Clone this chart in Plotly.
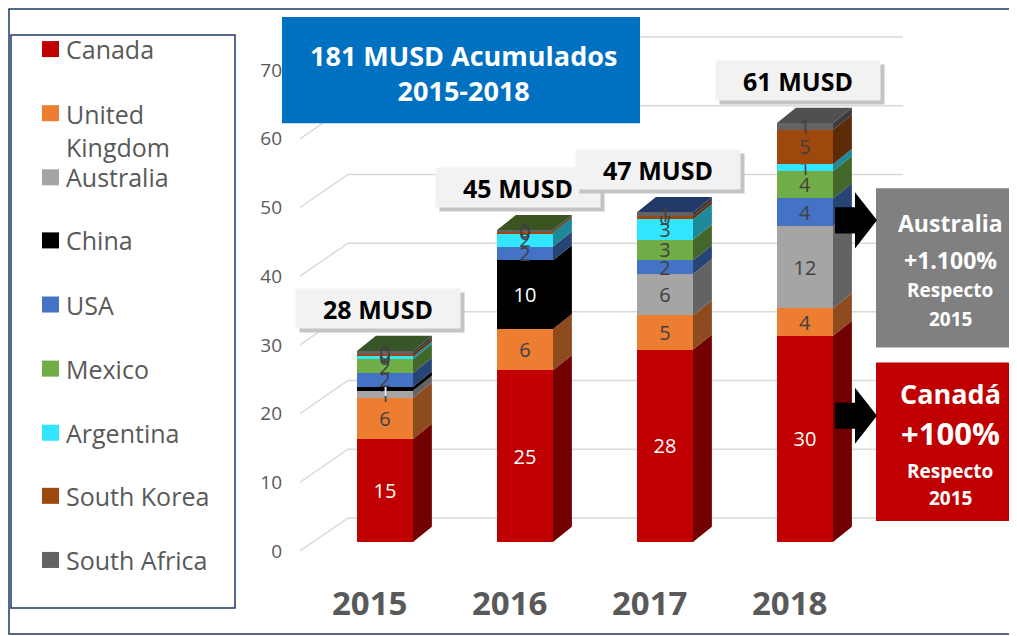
import plotly.graph_objects as go

W, H = 1017, 636

years = ["2015", "2016", "2017", "2018"]
series_names = ["Canada", "United Kingdom", "Australia", "China", "USA",
                "Mexico", "Argentina", "South Korea", "South Africa"]
canada = [15, 25, 28, 30]
uk = [6, 6, 5, 4]
australia = [1, 0, 6, 12]
china = [0.6, 10, 0, 0]
usa = [2, 2, 2, 4]
mexico = [2, 0, 3, 4]
argentina = [0.4, 2, 3, 1]
south_korea = [0.4, 0.2, 0.4, 5]
south_africa = [0.4, 0.2, 0.6, 1]
total_labels = ["28 MUSD", "45 MUSD", "47 MUSD", "61 MUSD"]
y_ticks = [0, 10, 20, 30, 40, 50, 60, 70]

series_values = [canada, uk, australia, china, usa, mexico, argentina, south_korea, south_africa]
colors = ["#C00000", "#ED7D31", "#A5A5A5", "#000000", "#4472C4",
          "#70AD47", "#33E6FF", "#9E480E", "#636363"]
label_colors = ["white", "#404040", "#404040", "white", "#404040",
                "#404040", "#404040", "#404040", "#404040"]
top_face_colors = ["#38552A", "#3C5520", "#22396A", "#505050"]

FONT = "Open Sans"
GRAY_TXT = "#595959"

# target-pixel -> paper conversion (page body margin offsets the figure)
X_OFF, Y_OFF, Y_SCALE = 8.0, 8.0, 0.992


def px(x):
    return (x - X_OFF) / W


def py(y):
    return 1 - ((y - Y_OFF) / Y_SCALE) / H


# axis geometry in target pixels
PPU = 6.857                   # pixels per value unit
BASE = 541                    # pixel of value 0 (bar front)
CX0, CSTEP = 385, 140         # bar centre pixel / spacing
PL, PR = 295, 1017
Y_LO, Y_HI = -2.5, 75.0
XR = [(PL - CX0) / CSTEP, (PR - CX0) / CSTEP]
BW = 0.4
DX, DY = 0.135, 2.2
BACK = 24 / PPU               # back-wall grid offset (units)
LAB = 9 / PPU                 # label offset below front level (units)


def darker(hexc, f=0.6):
    hexc = hexc.lstrip("#")
    r, g, b = (int(hexc[i:i + 2], 16) for i in (0, 2, 4))
    return "#%02x%02x%02x" % (int(r * f), int(g * f), int(b * f))


xs = list(range(len(years)))
fig = go.Figure()
for name, vals, col, lc in zip(series_names, series_values, colors, label_colors):
    fig.add_trace(go.Bar(
        x=xs, y=vals, name=name, width=BW, marker=dict(color=col, line=dict(width=0)),
        text=[f"{v:.0f}" if v > 0 else "" for v in vals],
        textposition="inside", insidetextanchor="middle", textangle=0,
        insidetextfont=dict(color=lc, size=20, family=FONT),
        showlegend=False, hoverinfo="skip",
    ))

shapes = []
# perspective gridlines (floor diagonal + back wall)
gx0 = (300 - CX0) / CSTEP
gx1 = (348 - CX0) / CSTEP
gx2 = (903 - CX0) / CSTEP
for v in y_ticks:
    shapes.append(dict(type="path", xref="x", yref="y", layer="below",
                       path=f"M{gx0},{v - LAB} L{gx1},{v + BACK} L{gx2},{v + BACK}",
                       line=dict(color="#D9D9D9", width=1.5)))

# pseudo-3D side and top faces derived from the data
for i in xs:
    base = 0
    for vals, col in zip(series_values, colors):
        v = vals[i]
        if v <= 0:
            continue
        xr = i + BW / 2
        shapes.append(dict(
            type="path", xref="x", yref="y", layer="below",
            path=f"M{xr},{base} L{xr + DX},{base + DY} L{xr + DX},{base + v + DY} L{xr},{base + v} Z",
            fillcolor=darker(col), line=dict(width=0)))
        base += v
    xl = i - BW / 2
    xr = i + BW / 2
    shapes.append(dict(
        type="path", xref="x", yref="y", layer="below",
        path=f"M{xl},{base} L{xl + DX},{base + DY} L{xr + DX},{base + DY} L{xr},{base} Z",
        fillcolor=top_face_colors[i], line=dict(width=0)))

# outer frame
shapes.append(dict(type="rect", xref="paper", yref="paper", x0=px(9), x1=px(1011), y0=py(633), y1=py(9),
                   line=dict(color="#1F3864", width=1.5), fillcolor="rgba(0,0,0,0)"))
# legend box
shapes.append(dict(type="rect", xref="paper", yref="paper", x0=px(11), x1=px(235), y0=py(607), y1=py(35),
                   line=dict(color="#1F3864", width=1.5), fillcolor="white", layer="below"))

annotations = []
leg_y = [49, 113, 177, 240, 304, 368, 432, 495, 559]
for name, col, yy in zip(series_names, colors, leg_y):
    shapes.append(dict(type="rect", xref="paper", yref="paper", x0=px(42), x1=px(59),
                       y0=py(yy + 8), y1=py(yy - 8), fillcolor=col, line=dict(width=0)))
    if name == "United Kingdom":
        txt, ty = "United<br>Kingdom", yy + 17
    else:
        txt, ty = name, yy
    annotations.append(dict(
        xref="paper", yref="paper", x=px(64), y=py(ty), xanchor="left", yanchor="middle",
        text=txt, showarrow=False, align="left",
        font=dict(family=FONT, size=25, color=GRAY_TXT)))

# blue box
shapes.append(dict(type="rect", xref="paper", yref="paper", x0=px(282), x1=px(640), y0=py(123), y1=py(17),
                   fillcolor="#0070C0", line=dict(width=0)))
annotations.append(dict(xref="paper", yref="paper", x=px(463), y=py(73), xanchor="center", yanchor="middle",
                        text="<b>181 MUSD Acumulados<br>2015-2018</b>",
                        showarrow=False, font=dict(family=FONT, size=27, color="white")))

# total labels
totals = [sum(s[i] for s in series_values) for i in xs]
for i, lab in zip(xs, total_labels):
    for shadow in (True, False):
        annotations.append(dict(
            xref="x", yref="y", x=i - 0.05, y=totals[i] + 6.2, text=f"<b>{lab}</b>",
            xanchor="center", yanchor="middle",
            showarrow=False, width=162, height=37,
            xshift=4 if shadow else 0, yshift=-4 if shadow else 0,
            bgcolor="#C4C4C4" if shadow else "#F2F2F2",
            font=dict(family=FONT, size=25, color="rgba(0,0,0,0)" if shadow else "black")))

# x-axis year labels
for i, yr in zip(xs, years):
    annotations.append(dict(xref="x", yref="paper", x=i - 0.11, y=py(601), text=f"<b>{yr}</b>",
                            xanchor="center", yanchor="middle",
                            showarrow=False, font=dict(family=FONT, size=33, color=GRAY_TXT)))

# side boxes
shapes.append(dict(type="rect", xref="paper", yref="paper", x0=px(876), x1=px(1025), y0=py(347), y1=py(188),
                   fillcolor="#808080", line=dict(width=0)))
shapes.append(dict(type="rect", xref="paper", yref="paper", x0=px(876), x1=px(1025), y0=py(520), y1=py(362),
                   fillcolor="#C00000", line=dict(width=0)))
for txt, yy, sz in [("Australia", 223, 23), ("+1.100%", 260, 23), ("Respecto", 290, 19), ("2015", 318, 19),
                    ("Canadá", 393, 27), ("+100%", 432, 31), ("Respecto", 470, 19), ("2015", 497, 19)]:
    annotations.append(dict(xref="paper", yref="paper", x=px(950), y=py(yy), text=f"<b>{txt}</b>",
                            xanchor="center", yanchor="middle",
                            showarrow=False, font=dict(family=FONT, size=sz, color="white")))

# arrows
for cy in (220, 415):
    path = (f"M{px(835)},{py(cy - 13)} L{px(855)},{py(cy - 13)} L{px(855)},{py(cy - 28)} "
            f"L{px(877)},{py(cy)} L{px(855)},{py(cy + 28)} L{px(855)},{py(cy + 13)} L{px(835)},{py(cy + 13)} Z")
    shapes.append(dict(type="path", xref="paper", yref="paper", path=path, fillcolor="black", line=dict(width=0)))

y_top_px = BASE - Y_HI * PPU
y_bot_px = BASE - Y_LO * PPU

fig.update_layout(
    width=W, height=H, barmode="stack",
    margin=dict(l=0, r=0, t=0, b=0),
    paper_bgcolor="white", plot_bgcolor="rgba(0,0,0,0)",
    font=dict(family=FONT),
    uniformtext=dict(minsize=20, mode="show"),
    xaxis=dict(domain=[px(PL), min(1.0, px(PR))], range=XR, showticklabels=False, showgrid=False,
               zeroline=False, showline=False, fixedrange=True),
    yaxis=dict(domain=[py(y_bot_px), py(y_top_px)], range=[Y_LO, Y_HI], tickvals=y_ticks,
               showgrid=False, zeroline=False, showline=False, ticks="",
               ticklabelstandoff=12, ticklabelshift=9,
               tickfont=dict(family=FONT, size=19, color=GRAY_TXT)),
    shapes=shapes, annotations=annotations,
)

fig.write_html("out.html")
